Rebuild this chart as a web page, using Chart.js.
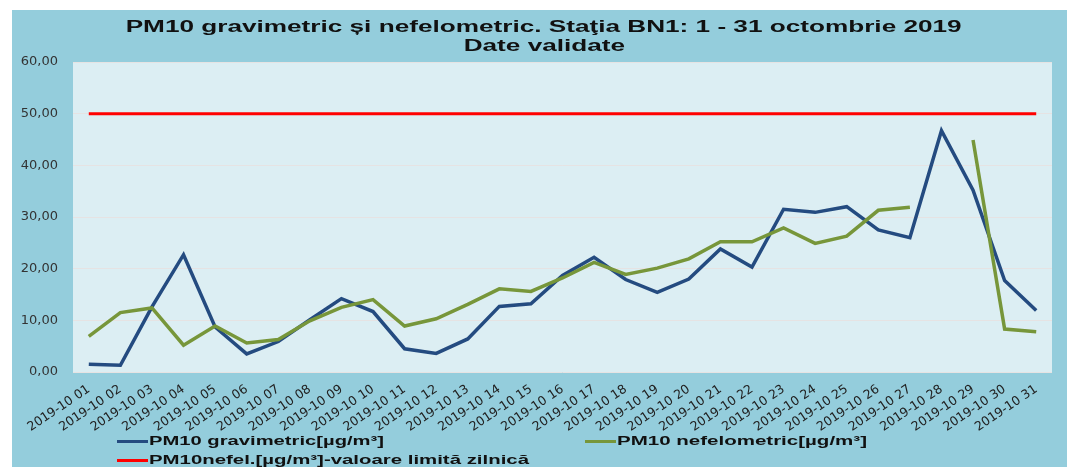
<!DOCTYPE html>
<html><head><meta charset="utf-8">
<script src="https://cdn.jsdelivr.net/npm/chart.js@4.4.1/dist/chart.umd.min.js"></script>
<style>
html,body{margin:0;padding:0;background:#fff;width:1067px;height:467px;overflow:hidden;}
#bg{position:absolute;left:12px;top:10px;width:1055px;height:457px;background:#94CDDC;}
#cv{position:absolute;left:0;top:0;}
.tl{position:absolute;white-space:nowrap;font:bold 16px "Liberation Sans",Arial,sans-serif;color:#111;line-height:20px;}
.leg{position:absolute;white-space:nowrap;font:bold 12.5px "Liberation Sans",Arial,sans-serif;color:#111;line-height:16px;}
.sw{position:absolute;height:3px;}
</style></head>
<body>
<div id="bg"></div>
<canvas id="cv" width="1067" height="467"></canvas>
<div id="ov"></div>
<script>
const titleLines = ["PM10 gravimetric și nefelometric. Staţia BN1: 1 - 31 octombrie 2019", "Date validate"];
const categories = ["2019-10 01","2019-10 02","2019-10 03","2019-10 04","2019-10 05","2019-10 06","2019-10 07","2019-10 08","2019-10 09","2019-10 10","2019-10 11","2019-10 12","2019-10 13","2019-10 14","2019-10 15","2019-10 16","2019-10 17","2019-10 18","2019-10 19","2019-10 20","2019-10 21","2019-10 22","2019-10 23","2019-10 24","2019-10 25","2019-10 26","2019-10 27","2019-10 28","2019-10 29","2019-10 30","2019-10 31"];
const gravimetric = [1.5,1.3,12.6,22.7,8.7,3.5,5.9,10.1,14.2,11.7,4.5,3.6,6.4,12.7,13.2,18.7,22.2,17.9,15.4,18.0,23.8,20.3,31.5,30.9,32.0,27.5,26.0,46.7,35.2,17.7,11.9];
const nefelometric = [6.9,11.5,12.4,5.2,8.9,5.6,6.3,9.9,12.5,14.0,8.9,10.3,13.1,16.1,15.6,18.2,21.2,18.9,20.1,21.9,25.2,25.2,27.9,24.9,26.3,31.3,31.9,null,44.9,8.3,7.8];
const limitValue = [50,50,50,50,50,50,50,50,50,50,50,50,50,50,50,50,50,50,50,50,50,50,50,50,50,50,50,50,50,50,50];
const seriesNames = ["PM10 gravimetric[µg/m³]", "PM10 nefelometric[µg/m³]", "PM10nefel.[µg/m³]-valoare limită zilnică"];
const yTicks = [0,10,20,30,40,50,60];

const colors = ["#244B80", "#77963A", "#FF0000"];

const plotBg = {
  id:'plotBg',
  beforeDraw(chart){
    const {ctx, chartArea:a} = chart;
    ctx.save(); ctx.fillStyle = '#DCEEF3';
    ctx.fillRect(a.left, a.top, a.right-a.left, a.bottom-a.top);
    ctx.restore();
  }
};

const chart = new Chart(document.getElementById('cv'), {
  type:'line',
  data:{
    labels: categories,
    datasets:[
      {label: seriesNames[0], data: gravimetric, borderColor: colors[0], borderWidth:3.5, pointRadius:0, tension:0, order:2},
      {label: seriesNames[1], data: nefelometric, borderColor: colors[1], borderWidth:3.5, pointRadius:0, tension:0, spanGaps:false, order:1},
      {label: seriesNames[2], data: limitValue, borderColor: colors[2], borderWidth:3, pointRadius:0, tension:0, order:0}
    ]
  },
  options:{
    responsive:false, animation:false, devicePixelRatio:1,
    layout:{padding:{left:0, top:62, right:15, bottom:0}},
    plugins:{legend:{display:false}, title:{display:false}, tooltip:{enabled:false}},
    scales:{
      x:{
        offset:true,
        grid:{display:false, drawTicks:false},
        border:{display:false},
        ticks:{autoSkip:false, minRotation:34, maxRotation:34, padding:10, color:'#222',
               font:{family:'DejaVu Sans', size:12.5}},
        afterFit(s){ s.height = 95; }
      },
      y:{
        min:0, max:60,
        afterBuildTicks(s){ s.ticks = yTicks.map(v=>({value:v})); },
        grid:{color:'#E6E3E3', lineWidth:1, drawTicks:false},
        border:{display:false},
        ticks:{padding:15, color:'#333', font:{family:'DejaVu Sans', size:13},
               callback:(v)=>Number(v).toFixed(2).replace('.', ',')},
        afterFit(s){ s.width = 73; }
      }
    }
  },
  plugins:[plotBg]
});

// Title (HTML text)
const ov = document.getElementById('ov');
const titleCx = 544, titleY = [27, 46], titleTarget = 836;
let scale = 1;
titleLines.forEach((t,i)=>{
  const d = document.createElement('div');
  d.className='tl'; d.textContent=t; ov.appendChild(d);
  const w = d.getBoundingClientRect().width;
  if(i===0) scale = titleTarget / w;
  d.style.left = (titleCx - w/2) + 'px';
  d.style.top = (titleY[i] - 10) + 'px';
  d.style.transformOrigin = 'center center';
  d.style.transform = 'scaleX(' + scale + ')';
});

// Legend (HTML) built from datasets
const legPos = [[117,441,235],[585,441,250],[117,460,380]];
chart.data.datasets.forEach((ds,i)=>{
  const [x,y,tw] = legPos[i];
  const sw = document.createElement('div');
  sw.className='sw'; sw.style.background = ds.borderColor;
  sw.style.left = x+'px'; sw.style.width='31px'; sw.style.top=(y-1.5)+'px';
  ov.appendChild(sw);
  const t = document.createElement('div');
  t.className='leg'; t.textContent = ds.label; ov.appendChild(t);
  const w = t.getBoundingClientRect().width;
  t.style.left = (x+32)+'px'; t.style.top = (y-8)+'px';
  t.style.transformOrigin='left center';
  t.style.transform='scaleX(' + (tw/w) + ')';
});
</script>
</body></html>
